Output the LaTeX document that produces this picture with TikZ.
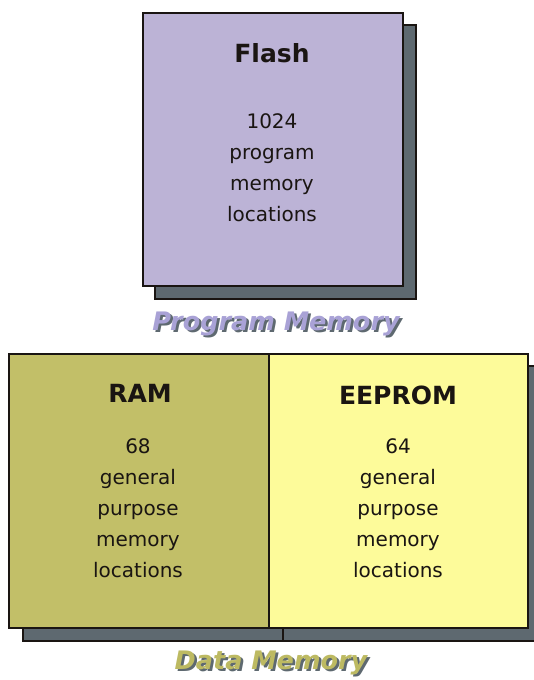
\documentclass[tikz,border=0pt]{standalone}
\usepackage{fontspec}
\setmainfont{DejaVu Sans}
\newcommand{\shadowtext}[2]{%
  \rlap{\kern2.5pt\raisebox{-2.5pt}{\color{shadowgray}#2}}{\color{#1}#2}}
\begin{document}
\begin{tikzpicture}[x=1pt,y=-1pt,
  outline/.style={draw=edgeblack,line width=2.4pt},
  shadowbox/.style={outline,fill=shadowgray},
  title/.style={font=\fontsize{25}{30}\selectfont\bfseries,text=textdark,inner sep=0pt},
  body/.style={font=\fontsize{20}{31}\selectfont,text=textdark,align=center,inner sep=0pt},
  caption/.style={font=\fontsize{25.5}{30}\selectfont\bfseries\itshape,inner sep=0pt}]
\definecolor{edgeblack}{HTML}{1A1512}
\definecolor{shadowgray}{HTML}{5E6970}
\definecolor{flashfill}{HTML}{BCB3D6}
\definecolor{ramfill}{HTML}{C2BF68}
\definecolor{eepromfill}{HTML}{FDFB9A}
\definecolor{progtext}{HTML}{A9A2D6}
\definecolor{datatext}{HTML}{BDBA62}
\definecolor{textdark}{HTML}{1A1512}
\useasboundingbox (0,0) rectangle (534,680);
\fill[white] (0,0) rectangle (534,680);

% program memory block with its drop shadow
\draw[shadowbox] (155,25) rectangle (416,299);
\draw[outline,fill=flashfill] (143,13) rectangle (403,286);
\node[title] (flash) at (272,53) {Flash};
\node[body] (flashbody) at (272,168) {1024\\program\\memory\\locations};

\node[caption] (prog) at (276,325) {\shadowtext{progtext}{Program Memory}};

% data memory block: RAM and EEPROM side by side
\begin{scope}
  \clip (0,0) rectangle (534,680);
  \draw[shadowbox] (23,366) rectangle (545,641);
  \draw[edgeblack,line width=1.6pt] (283,628) -- (283,641);
\end{scope}
\draw[outline,fill=ramfill] (9,354) rectangle (269,628);
\draw[outline,fill=eepromfill] (269,354) rectangle (528,628);

\node[title] (ram) at (140,393) {RAM};
\node[body] (rambody) at (138,508) {68\\general\\purpose\\memory\\locations};
\node[title] (eeprom) at (398,395) {EEPROM};
\node[body] (eeprombody) at (398,508) {64\\general\\purpose\\memory\\locations};

\node[caption] (data) at (271,664) {\shadowtext{datatext}{Data Memory}};
\end{tikzpicture}
\end{document}
